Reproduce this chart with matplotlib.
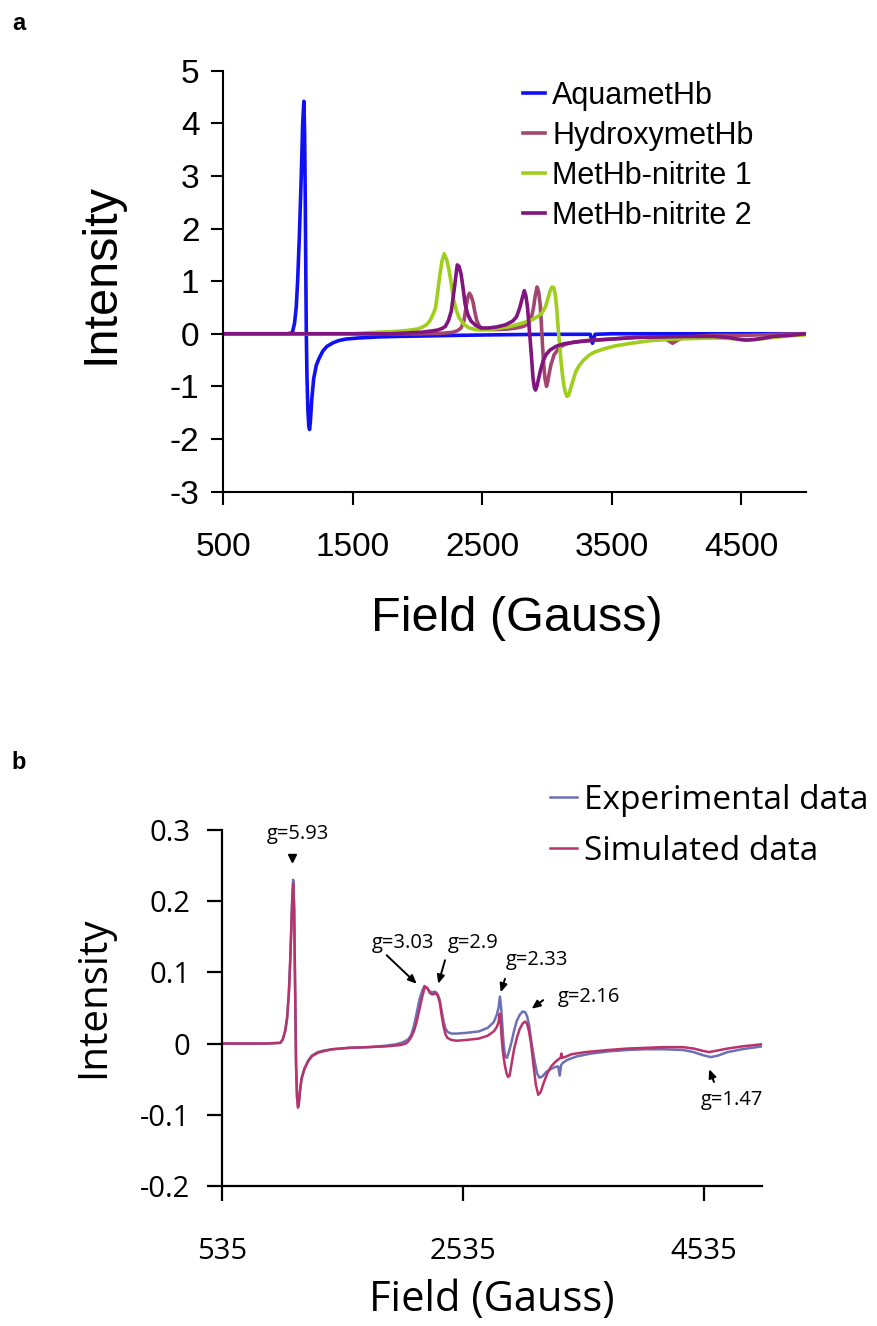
import matplotlib
matplotlib.use("Agg")
import matplotlib.pyplot as plt
import numpy as np

plt.rcParams["font.family"] = ["Liberation Sans", "DejaVu Sans"]
plt.rcParams["axes.unicode_minus"] = False

# ---- panel a: simulated EPR spectra, (field in G, intensity) ----
AQUAMET = [
    (500, 0), (1000, 0), (1035, 0.02), (1052, 0.2), (1065, 0.5), (1076, 1.0),
    (1090, 1.9), (1104, 3.0), (1115, 4.0), (1124, 4.42), (1130, 3.8), (1135, 2.5),
    (1139, 1.2), (1143, 0.0), (1148, -0.8), (1155, -1.45), (1162, -1.75),
    (1168, -1.82), (1175, -1.65), (1185, -1.25), (1200, -0.85), (1220, -0.6),
    (1241, -0.47), (1270, -0.33), (1302, -0.24), (1350, -0.17), (1393, -0.13),
    (1450, -0.1), (1546, -0.08), (1700, -0.06), (1851, -0.05), (2100, -0.04),
    (2308, -0.03), (2600, -0.02), (3000, -0.01), (3335, -0.01), (3345, -0.12),
    (3352, -0.18), (3360, -0.1), (3372, -0.01), (3500, 0), (5000, 0),
]
HYDROXYMET = [
    (500, 0), (2000, 0), (2200, 0.01), (2277, 0.03), (2310, 0.06), (2338, 0.11),
    (2360, 0.25), (2375, 0.49), (2390, 0.7), (2402, 0.77), (2415, 0.72),
    (2430, 0.6), (2445, 0.4), (2460, 0.24), (2480, 0.14), (2506, 0.09),
    (2560, 0.08), (2613, 0.08), (2700, 0.09), (2765, 0.11), (2820, 0.14),
    (2857, 0.19), (2880, 0.3), (2896, 0.49), (2910, 0.72), (2924, 0.89),
    (2936, 0.8), (2948, 0.56), (2957, 0.2), (2966, -0.21), (2976, -0.6),
    (2985, -0.85), (2997, -1.0), (3008, -0.9), (3015, -0.79), (3030, -0.6),
    (3055, -0.4), (3090, -0.28), (3131, -0.21), (3200, -0.16), (3300, -0.13),
    (3375, -0.12), (3500, -0.1), (3680, -0.07), (3800, -0.06), (3893, -0.06),
    (3930, -0.12), (3970, -0.18), (4010, -0.12), (4046, -0.08), (4150, -0.05),
    (4290, -0.03), (4534, -0.03), (4800, -0.01), (5000, 0),
]
NITRITE_1 = [
    (500, 0), (1500, 0), (1698, 0.03), (1800, 0.04), (1912, 0.06), (2000, 0.09),
    (2034, 0.12), (2070, 0.17), (2095, 0.24), (2120, 0.36), (2140, 0.49),
    (2155, 0.75), (2171, 1.07), (2190, 1.38), (2207, 1.52), (2225, 1.42),
    (2241, 1.26), (2260, 0.98), (2277, 0.68), (2300, 0.45), (2323, 0.3),
    (2360, 0.18), (2399, 0.11), (2450, 0.08), (2491, 0.07), (2560, 0.08),
    (2643, 0.11), (2700, 0.13), (2765, 0.17), (2830, 0.22), (2887, 0.27),
    (2930, 0.33), (2963, 0.4), (2990, 0.52), (3009, 0.68), (3025, 0.82),
    (3040, 0.89), (3052, 0.88), (3064, 0.75), (3075, 0.5), (3085, 0.17),
    (3096, -0.15), (3107, -0.47), (3120, -0.78), (3131, -0.98), (3143, -1.12),
    (3155, -1.19), (3168, -1.17), (3183, -1.04), (3200, -0.9), (3223, -0.72),
    (3250, -0.6), (3284, -0.5), (3330, -0.4), (3375, -0.34), (3450, -0.28),
    (3527, -0.23), (3600, -0.2), (3680, -0.17), (3800, -0.13), (3985, -0.1),
    (4150, -0.09), (4290, -0.08), (4420, -0.09), (4534, -0.12), (4650, -0.1),
    (4747, -0.07), (4870, -0.04), (5000, -0.02),
]
NITRITE_2 = [
    (500, 0), (1800, 0), (2034, 0.03), (2100, 0.05), (2155, 0.07), (2190, 0.1),
    (2216, 0.14), (2240, 0.25), (2262, 0.43), (2285, 0.85), (2308, 1.31),
    (2322, 1.28), (2338, 1.13), (2354, 0.85), (2369, 0.56), (2390, 0.36),
    (2415, 0.24), (2450, 0.16), (2491, 0.11), (2550, 0.11), (2613, 0.13),
    (2680, 0.17), (2735, 0.24), (2765, 0.32), (2790, 0.49), (2810, 0.68),
    (2826, 0.82), (2838, 0.72), (2851, 0.49), (2862, 0.15), (2872, -0.15),
    (2883, -0.5), (2893, -0.85), (2903, -1.02), (2912, -1.07), (2923, -1.0),
    (2936, -0.85), (2952, -0.68), (2973, -0.5), (2995, -0.39), (3024, -0.31),
    (3070, -0.24), (3131, -0.19), (3250, -0.15), (3375, -0.12), (3500, -0.1),
    (3680, -0.07), (3900, -0.06), (4100, -0.05), (4290, -0.05), (4400, -0.07),
    (4470, -0.1), (4534, -0.12), (4600, -0.11), (4680, -0.08), (4747, -0.05),
    (4870, -0.03), (5000, 0),
]
A_LABELS = ["AquametHb", "HydroxymetHb", "MetHb-nitrite 1", "MetHb-nitrite 2"]
A_COLORS = ["#1010f5", "#a3466f", "#9fcf1c", "#80157f"]
A_XTICKS = [500, 1500, 2500, 3500, 4500]
A_YTICKS = [-3, -2, -1, 0, 1, 2, 3, 4, 5]

# ---- panel b: experimental vs simulated spectrum ----
EXPERIMENTAL = [
    (535, 0), (900, 0), (1020, 0.001), (1040, 0.006), (1060, 0.018), (1075, 0.035),
    (1090, 0.07), (1100, 0.11), (1110, 0.16), (1118, 0.205), (1126, 0.23),
    (1134, 0.19), (1142, 0.08), (1150, -0.03), (1158, -0.075), (1166, -0.088),
    (1173, -0.083), (1182, -0.066), (1195, -0.049), (1219, -0.035), (1250, -0.024),
    (1280, -0.017), (1330, -0.012), (1373, -0.01), (1450, -0.008), (1588, -0.006),
    (1750, -0.005), (1896, -0.003), (1980, -0.001), (2040, 0.002), (2081, 0.006),
    (2105, 0.012), (2127, 0.024), (2150, 0.042), (2174, 0.062), (2197, 0.074),
    (2215, 0.081), (2240, 0.077), (2260, 0.073), (2281, 0.072), (2300, 0.073),
    (2312, 0.072), (2328, 0.068), (2343, 0.061), (2358, 0.046), (2374, 0.031),
    (2390, 0.021), (2410, 0.016), (2440, 0.014), (2482, 0.014), (2560, 0.015),
    (2666, 0.017), (2740, 0.022), (2790, 0.03), (2815, 0.04), (2830, 0.05),
    (2842, 0.066), (2852, 0.05), (2862, 0.025), (2872, 0.0), (2885, -0.018),
    (2900, -0.02), (2915, -0.012), (2935, 0.0), (2959, 0.018), (2982, 0.032),
    (3005, 0.04), (3030, 0.045), (3052, 0.044), (3068, 0.038), (3085, 0.025),
    (3105, 0.0), (3130, -0.025), (3150, -0.042), (3170, -0.048), (3195, -0.046),
    (3225, -0.04), (3260, -0.036), (3300, -0.033), (3325, -0.032), (3338, -0.045),
    (3350, -0.03), (3365, -0.027), (3400, -0.023), (3480, -0.018), (3600, -0.014),
    (3744, -0.011), (3900, -0.009), (4052, -0.008), (4200, -0.008), (4360, -0.009),
    (4450, -0.012), (4520, -0.016), (4590, -0.019), (4650, -0.017), (4730, -0.012),
    (4850, -0.008), (5016, -0.004),
]
SIMULATED = [
    (535, 0), (900, 0), (1020, 0.001), (1040, 0.006), (1060, 0.018), (1075, 0.035),
    (1090, 0.07), (1100, 0.11), (1110, 0.16), (1118, 0.2), (1126, 0.225),
    (1134, 0.19), (1142, 0.08), (1150, -0.03), (1158, -0.075), (1166, -0.09),
    (1173, -0.085), (1182, -0.068), (1195, -0.05), (1219, -0.036), (1250, -0.025),
    (1280, -0.018), (1330, -0.013), (1373, -0.011), (1450, -0.008), (1588, -0.006),
    (1750, -0.005), (1896, -0.004), (2020, -0.002), (2060, 0.0), (2081, 0.003),
    (2105, 0.009), (2127, 0.017), (2150, 0.03), (2174, 0.048), (2197, 0.066),
    (2220, 0.08), (2240, 0.078), (2260, 0.071), (2281, 0.069), (2300, 0.07),
    (2312, 0.071), (2328, 0.066), (2343, 0.057), (2358, 0.04), (2374, 0.024),
    (2390, 0.013), (2405, 0.008), (2440, 0.005), (2482, 0.004), (2560, 0.005),
    (2666, 0.007), (2740, 0.011), (2790, 0.017), (2815, 0.023), (2830, 0.03),
    (2840, 0.042), (2848, 0.03), (2857, 0.006), (2867, -0.012), (2882, -0.03),
    (2897, -0.042), (2910, -0.047), (2922, -0.045), (2935, -0.032), (2959, -0.008),
    (2982, 0.008), (3005, 0.02), (3030, 0.028), (3051, 0.031), (3066, 0.028),
    (3082, 0.018), (3100, 0.0), (3120, -0.03), (3140, -0.058), (3160, -0.072),
    (3180, -0.068), (3205, -0.055), (3235, -0.042), (3267, -0.032), (3300, -0.026),
    (3328, -0.022), (3345, -0.02), (3352, -0.014), (3360, -0.02), (3380, -0.019),
    (3436, -0.015), (3550, -0.012), (3744, -0.009), (3900, -0.007), (4052, -0.006),
    (4200, -0.005), (4360, -0.005), (4450, -0.007), (4520, -0.01), (4576, -0.012),
    (4640, -0.01), (4730, -0.007), (4850, -0.004), (5016, -0.001),
]
B_LABELS = ["Experimental data", "Simulated data"]
B_COLORS = ["#6d70b6", "#b8336a"]
B_XTICKS = [535, 2535, 4535]
B_YTICKS = [-0.2, -0.1, 0, 0.1, 0.2, 0.3]

# g-value labels: text, text position, arrow tail, arrow head
G_NOTES = [
    ("g=3.03", (2039, 0.141), (1902, 0.124), (2151, 0.084)),
    ("g=2.9", (2620, 0.141), (2386, 0.117), (2330, 0.084)),
    ("g=2.33", (3147, 0.117), (2884, 0.091), (2848, 0.072)),
    ("g=2.16", (3580, 0.065), (3201, 0.061), (3105, 0.049)),
    ("g=1.47", (4765, -0.079), (4618, -0.054), (4579, -0.036)),
]
G_PEAK = ("g=5.93", (1168, 0.295), (1120, 0.26))

B_FONT = ["Open Sans", "DejaVu Sans"]


def as_xy(pairs):
    arr = np.array(pairs, dtype=float)
    return arr[:, 0], arr[:, 1]


def style_axes(ax, lw):
    ax.spines["top"].set_visible(False)
    ax.spines["right"].set_visible(False)
    for side in ("left", "bottom"):
        ax.spines[side].set_linewidth(lw)
        ax.spines[side].set_color("black")


fig = plt.figure(figsize=(8.78, 13.26), dpi=100)

# ---------------- panel a ----------------
ax_a = fig.add_axes([0.254, 0.6293, 0.664, 0.3173])
for pairs, label, color in zip([AQUAMET, HYDROXYMET, NITRITE_1, NITRITE_2], A_LABELS, A_COLORS):
    x, y = as_xy(pairs)
    ax_a.plot(x, y, color=color, lw=2.6, label=label, solid_joinstyle="round")

ax_a.set_xlim(500, 5000)
ax_a.set_ylim(-3, 5)
ax_a.set_xticks(A_XTICKS)
ax_a.set_yticks(A_YTICKS)
style_axes(ax_a, 1.5)
ax_a.tick_params(axis="both", direction="out", length=9, width=1.5, labelsize=24)
ax_a.tick_params(axis="x", pad=20)
ax_a.tick_params(axis="y", pad=8)
ax_a.set_xlabel("Field (Gauss)", fontsize=35, va="center")
ax_a.set_ylabel("Intensity", fontsize=35, va="center")
ax_a.xaxis.set_label_coords(0.504, -0.302)
ax_a.yaxis.set_label_coords(-0.209, 0.519)
ax_a.legend(
    loc="upper left", bbox_to_anchor=(0.514, 0.976), frameon=False, fontsize=22,
    handlelength=0.72, handletextpad=0.25, labelspacing=0.33,
    borderpad=0, borderaxespad=0,
)
fig.text(0.021, 0.982, "a", fontsize=17, fontweight="bold", ha="center", va="center")

# ---------------- panel b ----------------
ax_b = fig.add_axes([0.2528, 0.1056, 0.615, 0.2685])
for pairs, label, color in zip([EXPERIMENTAL, SIMULATED], B_LABELS, B_COLORS):
    x, y = as_xy(pairs)
    ax_b.plot(x, y, color=color, lw=1.8, label=label, solid_joinstyle="round")

ax_b.set_xlim(535, 5016)
ax_b.set_ylim(-0.2, 0.3)
ax_b.set_xticks(B_XTICKS)
ax_b.set_xticklabels([str(v) for v in B_XTICKS], fontsize=21, fontfamily=B_FONT)
ax_b.set_yticks(B_YTICKS)
ax_b.set_yticklabels([f"{round(v, 2) + 0:g}" for v in B_YTICKS], fontsize=21, fontfamily=B_FONT)
style_axes(ax_b, 1.6)
ax_b.tick_params(axis="both", direction="out", length=11, width=1.6)
ax_b.tick_params(axis="x", pad=26)
ax_b.tick_params(axis="y", pad=12)
ax_b.set_xlabel("Field (Gauss)", fontsize=30, fontfamily=B_FONT, va="center")
ax_b.set_ylabel("Intensity", fontsize=29, fontfamily=B_FONT, va="center")
ax_b.xaxis.set_label_coords(0.5, -0.32)
ax_b.yaxis.set_label_coords(-0.237, 0.53)

text, pos, marker = G_PEAK
ax_b.text(pos[0], pos[1], text, fontsize=14.5, fontfamily=B_FONT, ha="center", va="center")
ax_b.plot([marker[0]], [marker[1]], marker="v", color="black", markersize=6, linestyle="none")
for text, pos, tail, head in G_NOTES:
    ax_b.text(pos[0], pos[1], text, fontsize=14.5, fontfamily=B_FONT, ha="center", va="center")
    ax_b.annotate(
        "", xy=head, xytext=tail,
        arrowprops=dict(arrowstyle="-|>,head_length=0.5,head_width=0.22", color="black",
                        lw=1.4, shrinkA=0, shrinkB=0),
    )

ax_b.legend(
    loc="upper left", bbox_to_anchor=(0.607, 1.13), frameon=False,
    prop={"family": B_FONT, "size": 24},
    handlelength=0.82, handletextpad=0.2, labelspacing=0.55,
    borderpad=0, borderaxespad=0,
)
fig.text(0.021, 0.425, "b", fontsize=17, fontweight="bold", ha="center", va="center")

fig.savefig("out.png", dpi=100)
